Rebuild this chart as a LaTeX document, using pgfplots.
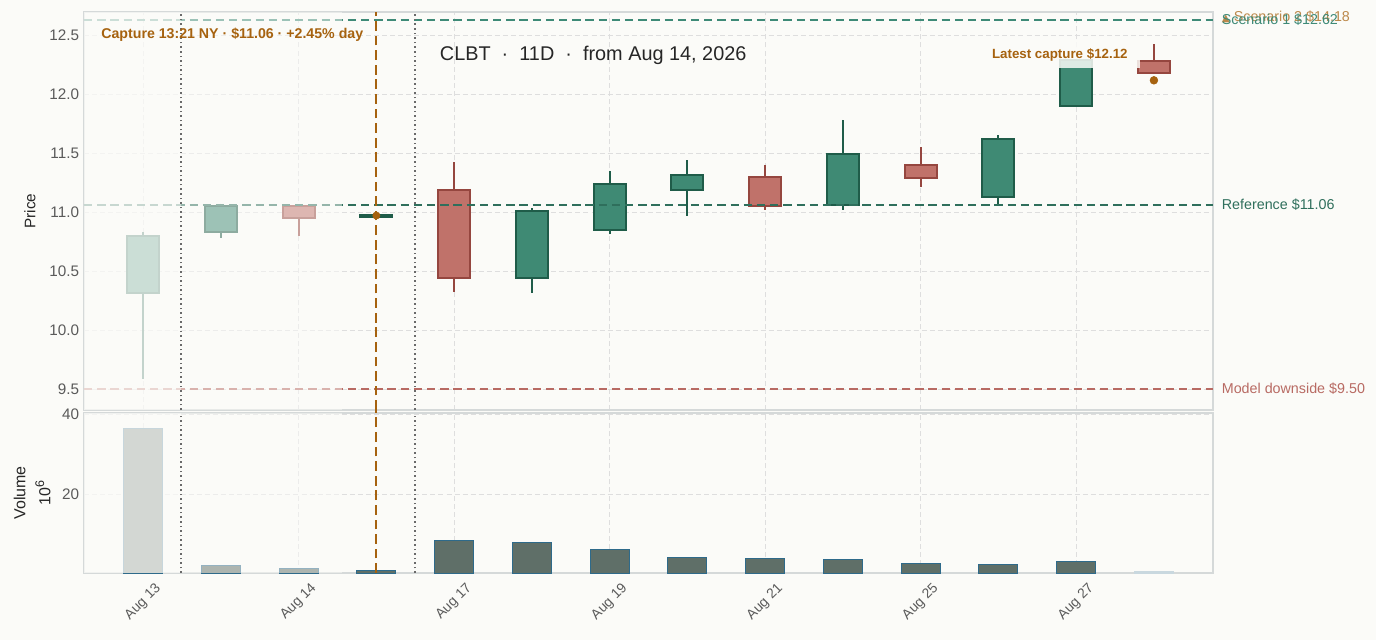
\documentclass[border=0pt]{standalone}
\usepackage{pgfplots}
\pgfplotsset{compat=1.18}
\usepgfplotslibrary{statistics}
\usepackage{fontspec}
\setmainfont{Liberation Sans}
\newfontfamily\dejavu{DejaVu Sans}

\definecolor{bgc}{HTML}{FBFBF8}
\definecolor{upf}{HTML}{3F8A74}
\definecolor{upe}{HTML}{1F5C49}
\definecolor{dnf}{HTML}{C0726A}
\definecolor{dne}{HTML}{95463F}
\definecolor{refc}{HTML}{2F6F5C}
\definecolor{scen1}{HTML}{3E8A77}
\definecolor{downc}{HTML}{B86A63}
\definecolor{orng}{HTML}{A6620F}
\definecolor{gridc}{HTML}{DEDEDE}
\definecolor{framec}{HTML}{D5D9D9}
\definecolor{tickc}{HTML}{5A5A5A}
\definecolor{volf}{HTML}{5F6F68}
\definecolor{vole}{HTML}{2E6A8A}
\definecolor{vlight}{HTML}{C9D8DF}
\definecolor{dotc}{HTML}{6A6A6A}

\pgfplotsset{
  candle/.style={line width=1.4pt, boxplot/draw direction=y, boxplot/box extend=0.41, boxplot/whisker extend=0},
  cup/.style={candle, draw=upe, fill=upf},
  cdn/.style={candle, draw=dne, fill=dnf},
  common/.style={
    scale only axis, width=812.88pt, xmin=-0.76, xmax=13.76,
    axis line style={framec, line width=0.9pt},
    major tick length=0pt,
    grid=major, major grid style={gridc, dash pattern=on 3.6pt off 2.2pt, line width=0.6pt},
    xtick={0,2,4,6,8,10,12},
    tick label style={text=tickc},
    clip mode=individual,
    /pgf/number format/assume math mode=true,
  },
}

\begin{document}
\begin{tikzpicture}
\fill[bgc, use as bounding box] (0,0) rectangle (990.72pt,460.8pt);

% ---------------- price panel ----------------
\begin{axis}[common,
  at={(60.48pt,452.16pt)}, anchor=north west,
  height=286.56pt,
  ymin=9.322, ymax=12.695,
  ytick={9.5,10,10.5,11,11.5,12,12.5},
  xticklabels={},
  yticklabel style={font=\fontsize{11}{13}\selectfont, /pgf/number format/.cd, fixed, fixed zerofill, precision=1},
  ylabel={Price},
  every axis y label/.style={at={([xshift=-38.9pt]rel axis cs:0,0.5)}, rotate=90, anchor=center, font=\fontsize{11}{13}\selectfont, text=black!85},
]
% candles: lower whisker=low, quartiles=min/max(open,close), upper whisker=high
\addplot[cup, boxplot prepared={draw position=0, lower whisker=9.585, lower quartile=10.31, median=10.31, upper quartile=10.80, upper whisker=10.83}] coordinates {};
\addplot[cup, boxplot prepared={draw position=1, lower whisker=10.78, lower quartile=10.83, median=10.83, upper quartile=11.05, upper whisker=11.07}] coordinates {};
\addplot[cdn, boxplot prepared={draw position=2, lower whisker=10.80, lower quartile=10.95, median=10.95, upper quartile=11.05, upper whisker=11.05}] coordinates {};
\addplot[cup, boxplot prepared={draw position=3, lower whisker=10.958, lower quartile=10.96, median=10.96, upper quartile=10.975, upper whisker=10.977}] coordinates {};
\addplot[cdn, boxplot prepared={draw position=4, lower whisker=10.325, lower quartile=10.44, median=10.44, upper quartile=11.19, upper whisker=11.42}] coordinates {};
\addplot[cup, boxplot prepared={draw position=5, lower whisker=10.315, lower quartile=10.44, median=10.44, upper quartile=11.01, upper whisker=11.03}] coordinates {};
\addplot[cup, boxplot prepared={draw position=6, lower whisker=10.81, lower quartile=10.85, median=10.85, upper quartile=11.24, upper whisker=11.35}] coordinates {};
\addplot[cup, boxplot prepared={draw position=7, lower whisker=10.97, lower quartile=11.19, median=11.19, upper quartile=11.31, upper whisker=11.44}] coordinates {};
\addplot[cdn, boxplot prepared={draw position=8, lower whisker=11.02, lower quartile=11.05, median=11.05, upper quartile=11.30, upper whisker=11.40}] coordinates {};
\addplot[cup, boxplot prepared={draw position=9, lower whisker=11.02, lower quartile=11.06, median=11.06, upper quartile=11.49, upper whisker=11.78}] coordinates {};
\addplot[cdn, boxplot prepared={draw position=10, lower whisker=11.21, lower quartile=11.29, median=11.29, upper quartile=11.40, upper whisker=11.55}] coordinates {};
\addplot[cup, boxplot prepared={draw position=11, lower whisker=11.06, lower quartile=11.13, median=11.13, upper quartile=11.62, upper whisker=11.65}] coordinates {};
\addplot[cup, boxplot prepared={draw position=12, lower whisker=11.90, lower quartile=11.90, median=11.90, upper quartile=12.29, upper whisker=12.30}] coordinates {};
\addplot[cdn, boxplot prepared={draw position=13, lower whisker=12.18, lower quartile=12.18, median=12.18, upper quartile=12.28, upper whisker=12.42}] coordinates {};

% level lines
\addplot[scen1, line width=1.3pt, dash pattern=on 6pt off 3.5pt] coordinates {(-0.76,12.627) (13.76,12.627)};
\addplot[refc, line width=1.6pt, dash pattern=on 6pt off 3.5pt] coordinates {(-0.76,11.06) (13.76,11.06)};
\addplot[downc, line width=1.6pt, dash pattern=on 6pt off 3.5pt] coordinates {(-0.76,9.5) (13.76,9.5)};

% fading of the earlier days
\fill[bgc, fill opacity=0.75] (axis cs:-0.76,9.322) rectangle (axis cs:0.49,12.695);
\fill[bgc, fill opacity=0.5] (axis cs:0.49,9.322) rectangle (axis cs:2.56,12.695);

% vertical markers
\draw[dotc, line width=1.1pt, dash pattern=on 1.1pt off 2.2pt] (axis cs:0.49,9.322) -- (axis cs:0.49,12.695);
\draw[dotc, line width=1.1pt, dash pattern=on 1.1pt off 2.2pt] (axis cs:3.5,9.322) -- (axis cs:3.5,12.695);
\draw[orng, line width=1.4pt, dash pattern=on 7pt off 3.5pt] (axis cs:3,9.322) -- (axis cs:3,12.695);

\addplot[only marks, mark=*, mark size=2.6pt, orng] coordinates {(3,10.97)};
\addplot[only marks, mark=*, mark size=2.8pt, orng] coordinates {(13,12.116)};

% annotations
\node[anchor=west, inner sep=0pt, text=orng, font=\fontsize{10.2}{12}\selectfont\bfseries] at (axis cs:-0.54,12.5) {Capture 13:21 NY · \$11.06 · +2.45\% day};
\node[text=black!85, font=\fontsize{14.3}{17}\selectfont] at (rel axis cs:0.451,0.892) {CLBT\ \ ·\ \ 11D\ \ ·\ \ from Aug 14, 2026};
\node[fill=bgc, fill opacity=0.85, text opacity=1, text=orng, inner xsep=9pt, inner ysep=5pt, font=\fontsize{9.6}{11}\selectfont\bfseries] at (axis cs:11.79,12.33) {Latest capture \$12.12};

% right-hand labels
\node[anchor=west, inner sep=0pt, text=orng!75, font=\fontsize{10.3}{12}\selectfont] at (axis cs:13.87,12.65) {{\dejavu\fontsize{7.5}{8}\selectfont ▲}\ Scenario 2 \$14.18};
\node[anchor=west, inner sep=0pt, text=scen1, font=\fontsize{10.3}{12}\selectfont] at (axis cs:13.87,12.627) {Scenario 1 \$12.62};
\node[anchor=west, inner sep=0pt, text=refc, font=\fontsize{10.3}{12}\selectfont] at (axis cs:13.87,11.06) {Reference \$11.06};
\node[anchor=west, inner sep=0pt, text=downc, font=\fontsize{10.3}{12}\selectfont] at (axis cs:13.87,9.5) {Model downside \$9.50};
\end{axis}

% ---------------- volume panel ----------------
\begin{axis}[common,
  at={(60.48pt,163.44pt)}, anchor=north west,
  height=115.2pt,
  ymin=0.45, ymax=40.4,
  ytick={20,40},
  yticklabel style={font=\fontsize{11}{13}\selectfont},
  xticklabels={Aug 13,Aug 14,Aug 17,Aug 19,Aug 21,Aug 25,Aug 27},
  xticklabel style={rotate=45, anchor=center, xshift=-14.8pt, yshift=-14.8pt, font=\fontsize{10}{12}\selectfont},
  ylabel={Volume\\10\textsuperscript{\fontsize{9}{9}\selectfont 6}},
  every axis y label/.style={at={([xshift=-37.4pt]rel axis cs:0,0.5)}, rotate=90, anchor=center, align=center, font=\fontsize{11.5}{18}\selectfont, text=black!85},
]
\addplot[ybar, bar shift=0pt, bar width=0.5, fill=volf, draw=vole, line width=0.7pt] coordinates {
(0,36.6) (1,2.4) (2,1.6) (3,1.1) (4,8.6) (5,8.1) (6,6.3) (7,4.3) (8,4.1) (9,3.85) (10,2.86) (11,2.6) (12,3.35)};
\addplot[ybar, bar shift=0pt, bar width=0.5, fill=vlight, draw=vlight, line width=0.7pt] coordinates {(13,0.8)};

\fill[bgc, fill opacity=0.75] (axis cs:-0.76,0.45) rectangle (axis cs:0.49,40.4);
\fill[bgc, fill opacity=0.5] (axis cs:0.49,0.45) rectangle (axis cs:2.56,40.4);

\draw[dotc, line width=1.1pt, dash pattern=on 1.1pt off 2.2pt] (axis cs:0.49,0.45) -- (axis cs:0.49,40.4);
\draw[dotc, line width=1.1pt, dash pattern=on 1.1pt off 2.2pt] (axis cs:3.5,0.45) -- (axis cs:3.5,40.4);
\draw[orng, line width=1.4pt, dash pattern=on 7pt off 3.5pt] (axis cs:3,0.45) -- (axis cs:3,41.5);
\end{axis}
\end{tikzpicture}
\end{document}
